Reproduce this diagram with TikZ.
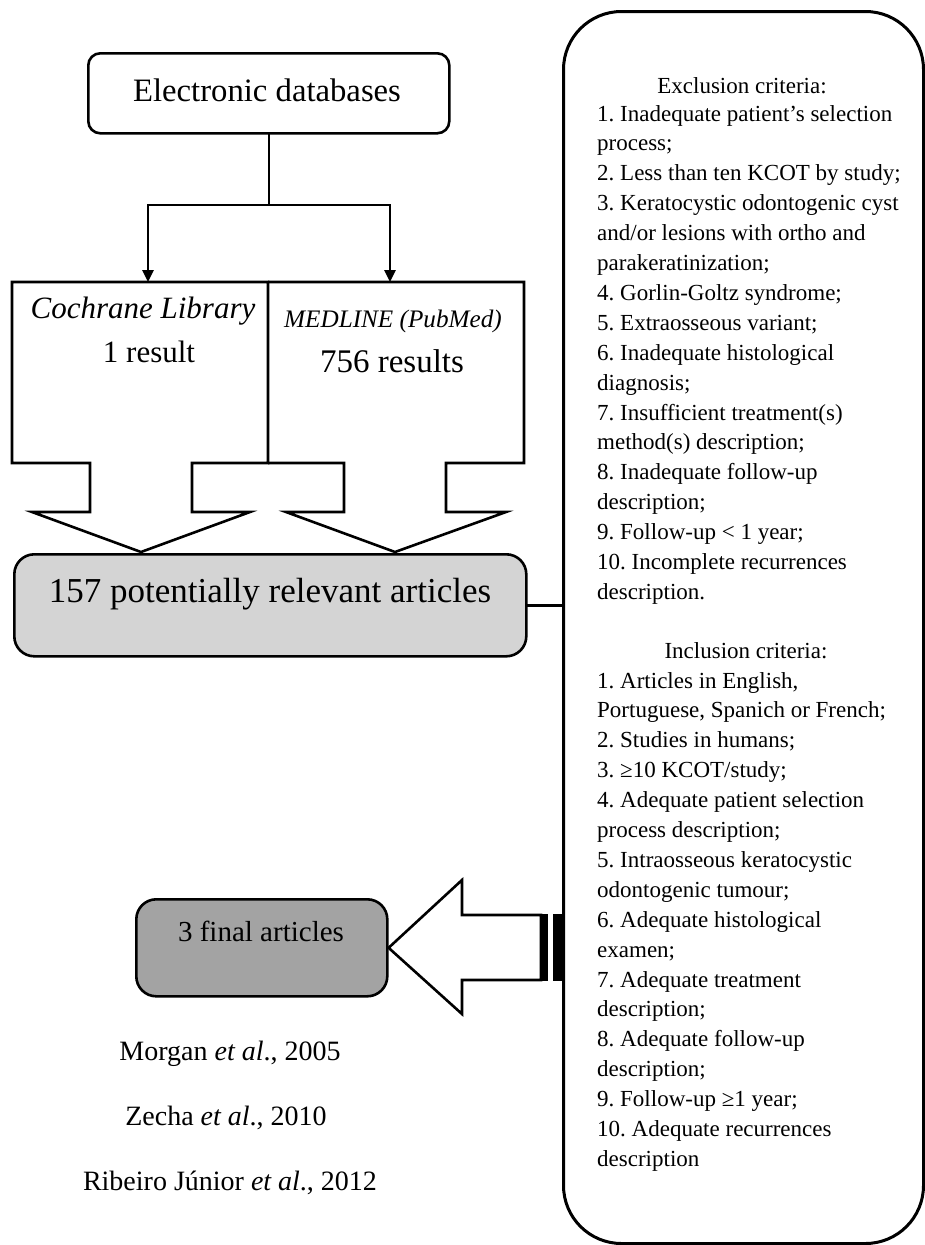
\documentclass[tikz,border=0pt]{standalone}
\usepackage{fontspec}
\setmainfont{Liberation Serif}
\usetikzlibrary{arrows.meta}
\definecolor{lightbox}{RGB}{212,212,212}
\definecolor{darkbox}{RGB}{163,163,163}
\begin{document}
\frenchspacing
\begin{tikzpicture}[x=1pt,y=-1pt,
  outl/.style={draw=black,line width=2.6pt,line join=miter},
  conn/.style={draw=black,line width=2.6pt,line cap=rect},
  arr/.style={draw=black,line width=2.6pt,-{Triangle[width=11pt,length=12pt]}},
  txt/.style={inner sep=0pt},
  reftxt/.style={inner sep=0pt,font=\fontsize{28}{32}\selectfont,anchor=base},
  crittxt/.style={inner sep=0pt,font=\fontsize{23}{29.9}\selectfont},
]
\useasboundingbox (0,0) rectangle (925,1245);

% Electronic databases
\node[outl,rounded corners=12pt,minimum width=361pt,minimum height=80pt,anchor=north west,inner sep=0pt] (edb) at (87,52) {};
\node[txt,font=\fontsize{32.7}{36}\selectfont] (edbt) at (267,90) {Electronic databases};

\coordinate (jl) at (148,205);
\coordinate (jr) at (390,205);
\coordinate (cltop) at (148,282);
\coordinate (mltop) at (390,282);
\draw[conn] (edb.south) -- (edb.south |- jl);
\draw[conn] (jl) -- (jr);
\draw[arr] (jl) -- (cltop);
\draw[arr] (jr) -- (mltop);

% block arrows
\draw[outl] (12,282) -- (268,282) -- (268,463) -- (192,463) -- (192,512) -- (250,512) -- (141,552) -- (32,512) -- (90,512) -- (90,463) -- (12,463) -- cycle;
\draw[outl] (268,282) -- (524,282) -- (524,463) -- (446,463) -- (446,512) -- (506,512) -- (395,552) -- (286,512) -- (344,512) -- (344,463) -- (268,463);

\node[txt,font=\fontsize{31}{34}\selectfont\itshape,anchor=base] (coch) at (143,318) {Cochrane Library};
\node[txt,font=\fontsize{31}{34}\selectfont,anchor=base] (cochr) at (149,362) {1 result};
\node[txt,font=\fontsize{25.2}{28}\selectfont\itshape,anchor=base] (med) at (393,327) {MEDLINE (PubMed)};
\node[txt,font=\fontsize{33}{36}\selectfont,anchor=base] (medr) at (392,372) {756 results};

% 157 box
\node[outl,fill=lightbox,rounded corners=20pt,minimum width=512pt,minimum height=102pt,anchor=north west,inner sep=0pt] (pot) at (13,553) {};
\node[txt,font=\fontsize{35}{40}\selectfont,anchor=base] (pott) at (270,602) {157 potentially relevant articles};

% criteria box
\node[draw=black,line width=3pt,rounded corners=58pt,minimum width=360pt,minimum height=1232pt,anchor=north west,inner sep=0pt] (crit) at (562,10) {};
\draw[conn] (pot.east) -- (pot.east -| crit.west);

% final box
\node[outl,fill=darkbox,rounded corners=20pt,minimum width=251pt,minimum height=97pt,anchor=north west,inner sep=0pt] (fin) at (135,898) {};
\node[txt,font=\fontsize{29}{34}\selectfont,anchor=base] (fint) at (261,941) {3 final articles};

% striped arrow
\draw[outl,fill=white] (fin.east) -- (462,880) -- (462,915) -- (541,915) -- (541,980) -- (462,980) -- (462,1014) -- cycle;
\draw[outl,fill=black] (541,915) rectangle (547,980);
\draw[outl,fill=black] (554,915) rectangle (562,980);

% references
\node[reftxt] (ref1) at (230,1060) {Morgan \textit{et al}., 2005};
\node[reftxt] (ref2) at (226,1125) {Zecha \textit{et al}., 2010};
\node[reftxt] (ref3) at (230,1190) {Ribeiro Júnior \textit{et al}., 2012};

% criteria text
\node[crittxt,anchor=base] (exh) at (742,93) {Exclusion criteria:};
\foreach \t [count=\i from 0] in {
  {1. Inadequate patient’s selection},
  {process;},
  {2. Less than ten KCOT by study;},
  {3. Keratocystic odontogenic cyst},
  {and/or lesions with ortho and},
  {parakeratinization;},
  {4. Gorlin-Goltz syndrome;},
  {5. Extraosseous variant;},
  {6. Inadequate histological},
  {diagnosis;},
  {7. Insufficient treatment(s)},
  {method(s) description;},
  {8. Inadequate follow-up},
  {description;},
  {9. Follow-up < 1 year;},
  {10. Incomplete recurrences},
  {description.}}
  \node[crittxt,anchor=base west] (ex\i) at (597,{121+29.9*\i}) {\t};

\node[crittxt,anchor=base] (inh) at (746,658) {Inclusion criteria:};
\foreach \t [count=\i from 0] in {
  {1. Articles in English,},
  {Portuguese, Spanich or French;},
  {2. Studies in humans;},
  {3. ≥10 KCOT/study;},
  {4. Adequate patient selection},
  {process description;},
  {5. Intraosseous keratocystic},
  {odontogenic tumour;},
  {6. Adequate histological},
  {examen;},
  {7. Adequate treatment},
  {description;},
  {8. Adequate follow-up},
  {description;},
  {9. Follow-up ≥1 year;},
  {10. Adequate recurrences},
  {description}}
  \node[crittxt,anchor=base west] (in\i) at (597,{688+29.9*\i}) {\t};
\end{tikzpicture}
\end{document}
